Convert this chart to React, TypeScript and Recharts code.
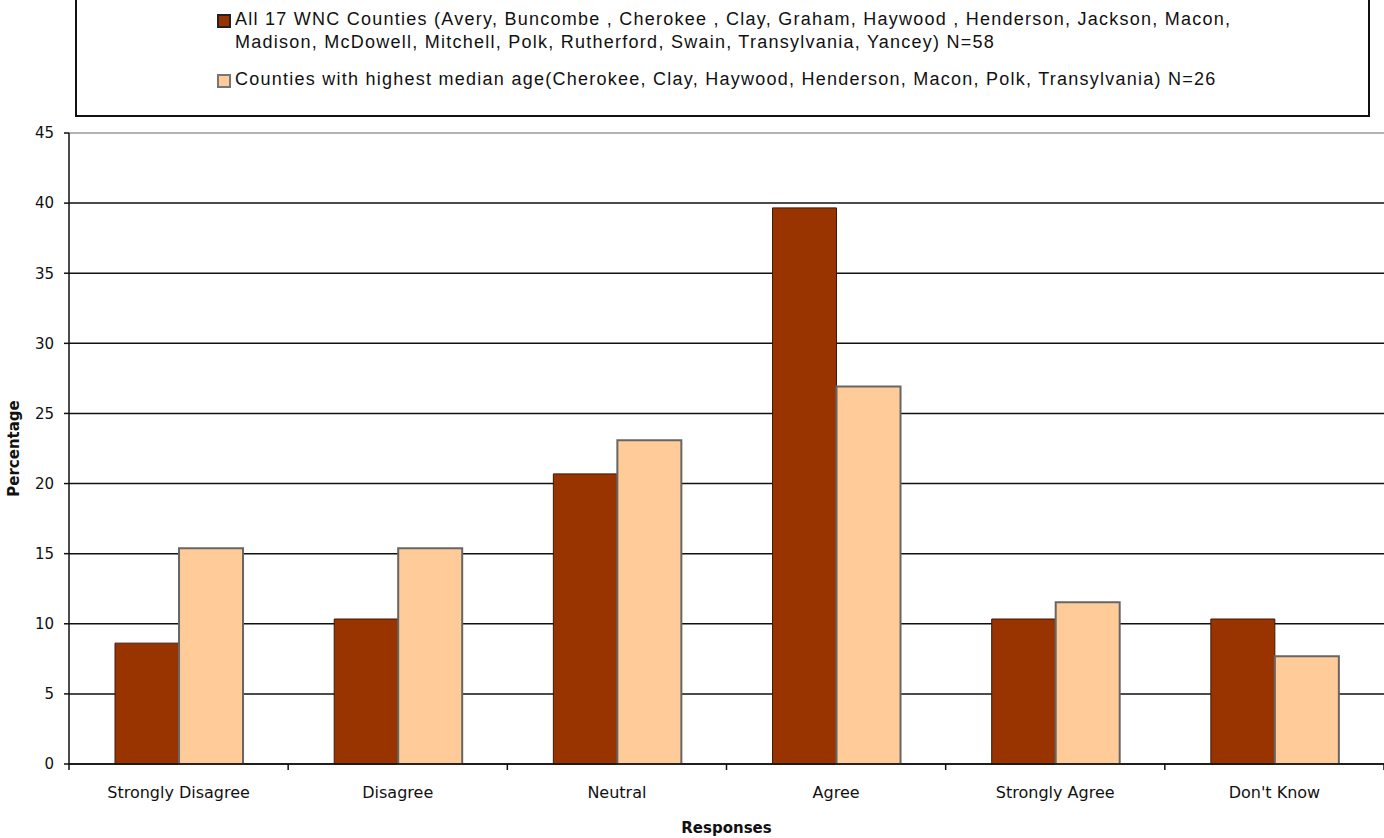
import { Bar, BarChart, CartesianGrid, Legend, XAxis, YAxis } from "recharts"

const responses = ["Strongly Disagree", "Disagree", "Neutral", "Agree", "Strongly Agree", "Don't Know"]
const allCounties = [8.62, 10.34, 20.69, 39.66, 10.34, 10.34]
const oldestCounties = [15.38, 15.38, 23.08, 26.92, 11.54, 7.69]
const yTicks = [0, 5, 10, 15, 20, 25, 30, 35, 40, 45]

const allLabel = [
  "All 17 WNC Counties (Avery, Buncombe , Cherokee , Clay, Graham, Haywood , Henderson, Jackson, Macon,",
  "Madison, McDowell, Mitchell, Polk, Rutherford, Swain, Transylvania, Yancey) N=58",
]
const oldestLabel =
  "Counties with highest median age(Cherokee, Clay, Haywood, Henderson, Macon, Polk, Transylvania) N=26"

const data = responses.map((name, i) => ({ name, all: allCounties[i], oldest: oldestCounties[i] }))

const W = 1384
const H = 838
const AXIS_W = 69
const band = (W - AXIS_W) / responses.length

const tickFont = "'DejaVu Sans', Verdana, sans-serif"
const legendFont = "'Liberation Sans Narrow', 'Liberation Sans', Arial, sans-serif"

function ResponseTick(props: any) {
  const { x, y, payload, index } = props
  return (
    <g>
      {index === 0 && <line x1={x - band / 2} x2={x - band / 2} y1={y} y2={y + 6} stroke="#111" strokeWidth={1.5} />}
      <line x1={x + band / 2} x2={x + band / 2} y1={y} y2={y + 6} stroke="#111" strokeWidth={1.5} />
      <text x={x} y={y + 34} textAnchor="middle" fill="#111" fontSize={16} fontFamily={tickFont}>
        {payload.value}
      </text>
    </g>
  )
}

function GridLine(props: any) {
  const { x1, x2, y1, y2, index } = props
  const top = index === yTicks.length - 1
  return <line x1={x1} x2={x2} y1={y1} y2={y2} stroke={top ? "#999" : "#111"} strokeWidth={1.5} />
}

function Swatch({ fill, border }: { fill: string; border: string }) {
  return (
    <span
      style={{
        display: "inline-block",
        width: 10,
        height: 10,
        background: fill,
        border: `2px solid ${border}`,
        marginRight: 4,
        marginTop: 6,
        flex: "none",
      }}
    />
  )
}

function LegendBox() {
  const text = { fontFamily: legendFont, fontSize: 18, color: "#111", lineHeight: "23px", letterSpacing: 1.25 }
  return (
    <div
      style={{
        boxSizing: "border-box",
        width: "100%",
        height: 120,
        border: "2px solid #111",
        paddingLeft: 140,
        paddingTop: 9,
      }}
    >
      <div style={{ display: "flex", alignItems: "flex-start" }}>
        <Swatch fill="#993300" border="#222" />
        <div style={{ ...text, whiteSpace: "nowrap" }}>
          {allLabel[0]}
          <br />
          {allLabel[1]}
        </div>
      </div>
      <div style={{ display: "flex", alignItems: "flex-start", marginTop: 14 }}>
        <Swatch fill="#FFCC99" border="#777" />
        <div style={{ ...text, whiteSpace: "nowrap" }}>{oldestLabel}</div>
      </div>
    </div>
  )
}

export default function App() {
  return (
    <div style={{ position: "absolute", left: 0, top: 0, background: "#fff" }}>
      <BarChart
        width={W}
        height={H}
        data={data}
        margin={{ top: 13, right: 0, bottom: 0, left: 0 }}
        barCategoryGap="21%"
        barGap={0}
      >
        <Legend
          verticalAlign="top"
          content={() => <LegendBox />}
          wrapperStyle={{ top: -3, left: 75, width: 1295, height: 120 }}
        />
        <CartesianGrid vertical={false} horizontal={(p: any) => <GridLine {...p} />} />
        <XAxis
          dataKey="name"
          height={74}
          tickSize={0}
          tickMargin={0}
          tickLine={false}
          axisLine={{ stroke: "#111", strokeWidth: 1.5 }}
          tick={<ResponseTick />}
          interval={0}
          label={{
            value: "Responses",
            position: "insideBottom",
            offset: 5,
            fill: "#111",
            fontSize: 15,
            fontWeight: "bold",
            fontFamily: tickFont,
          }}
        />
        <YAxis
          width={AXIS_W}
          domain={[0, 45]}
          ticks={yTicks}
          interval={0}
          tickSize={5}
          tickMargin={10}
          axisLine={{ stroke: "#111", strokeWidth: 1.5 }}
          tickLine={{ stroke: "#111", strokeWidth: 1.5 }}
          tick={{ fill: "#111", fontSize: 15, fontFamily: tickFont }}
          label={{
            value: "Percentage",
            angle: -90,
            position: "insideLeft",
            offset: 14,
            fill: "#111",
            fontSize: 15,
            fontWeight: "bold",
            fontFamily: tickFont,
            style: { textAnchor: "middle" },
          }}
        />
        <Bar dataKey="all" fill="#993300" stroke="#3a1a0a" strokeWidth={1} isAnimationActive={false} />
        <Bar dataKey="oldest" fill="#FFCC99" stroke="#666" strokeWidth={2} isAnimationActive={false} />
      </BarChart>
    </div>
  )
}
